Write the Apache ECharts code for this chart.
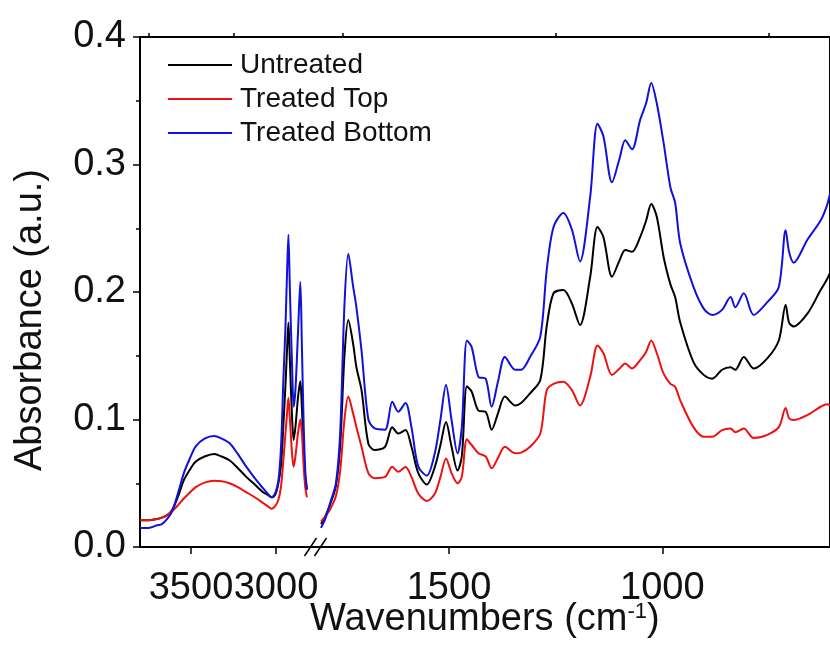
<!DOCTYPE html>
<html><head><meta charset="utf-8">
<script src="https://cdn.jsdelivr.net/npm/echarts@6/dist/echarts.min.js"></script>
<style>html,body{margin:0;padding:0;background:#fff}#c{width:830px;height:665px}</style>
</head><body><div id="c"></div>
<script>
// ---------- data ----------
const seriesNames = ['Untreated', 'Treated Top', 'Treated Bottom'];
const seriesColors = ['#000000', '#ee1111', '#1111dd'];

// high wavenumber segment (O-H / C-H region)
const wnHigh = [3800,3750,3700,3671,3640,3611,3575,3542,3505,3472,3420,3363,3320,3274,3225,3175,3125,3076,3050,3026,3005,2986,2970,2957,2945,2935,2927,2918,2905,2896,2885,2870,2857,2848,2838,2828,2818];
const untreatedHigh = [0.021,0.021,0.022,0.023,0.025,0.029,0.040,0.0525,0.061,0.067,0.071,0.073,0.071,0.068,0.062,0.055,0.049,0.043,0.041,0.039,0.041,0.050,0.065,0.095,0.125,0.155,0.176,0.145,0.100,0.084,0.095,0.118,0.130,0.110,0.080,0.055,0.045];
const topHigh = [0.021,0.021,0.022,0.023,0.025,0.028,0.033,0.038,0.043,0.047,0.0505,0.052,0.0515,0.050,0.047,0.043,0.039,0.0345,0.032,0.030,0.032,0.037,0.048,0.068,0.088,0.105,0.117,0.100,0.072,0.063,0.072,0.090,0.100,0.090,0.065,0.047,0.039];
const bottomHigh = [0.015,0.015,0.017,0.018,0.022,0.028,0.043,0.058,0.070,0.079,0.085,0.087,0.085,0.0815,0.073,0.063,0.054,0.046,0.042,0.039,0.042,0.052,0.080,0.130,0.170,0.215,0.245,0.200,0.140,0.110,0.125,0.170,0.208,0.160,0.100,0.060,0.045];

// fingerprint segment
const wnLow = [1800,1790,1778,1765,1755,1745,1736,1725,1717,1705,1689,1674,1650,1633,1619,1602,1588,1572,1552,1533,1520,1507,1494,1480,1470,1458,1447,1431,1414,1400,1385,1369,1345,1331,1310,1286,1271,1255,1232,1212,1193,1169,1152,1138,1118,1100,1087,1071,1052,1038,1026,1013,997,981,970,958,927,903,883,860,840,829,809,786,754,727,711,703,692,660,629,614,607];
const untreatedLow = [0.018,0.024,0.034,0.048,0.080,0.150,0.178,0.160,0.141,0.123,0.081,0.076,0.0786,0.094,0.089,0.0917,0.0786,0.058,0.049,0.063,0.080,0.098,0.0786,0.060,0.071,0.126,0.122,0.107,0.106,0.092,0.105,0.118,0.111,0.113,0.1205,0.131,0.173,0.199,0.2015,0.191,0.174,0.212,0.251,0.243,0.212,0.225,0.233,0.2315,0.243,0.256,0.269,0.259,0.2275,0.206,0.196,0.176,0.145,0.135,0.132,0.139,0.141,0.139,0.149,0.140,0.148,0.162,0.190,0.176,0.173,0.183,0.2015,0.210,0.215];
const topLow = [0.020,0.024,0.030,0.040,0.060,0.100,0.118,0.105,0.094,0.0786,0.058,0.054,0.055,0.063,0.059,0.0627,0.055,0.042,0.036,0.042,0.055,0.0695,0.058,0.050,0.055,0.0845,0.080,0.0735,0.071,0.0617,0.070,0.0786,0.0735,0.074,0.0786,0.089,0.123,0.128,0.1296,0.123,0.111,0.1335,0.158,0.152,0.135,0.140,0.144,0.140,0.1466,0.153,0.162,0.152,0.136,0.128,0.1257,0.115,0.094,0.0865,0.0865,0.0917,0.093,0.090,0.093,0.0855,0.088,0.094,0.109,0.101,0.0996,0.1035,0.110,0.112,0.111];
const bottomLow = [0.015,0.022,0.035,0.050,0.090,0.190,0.230,0.205,0.188,0.154,0.100,0.093,0.092,0.114,0.106,0.113,0.094,0.063,0.056,0.074,0.100,0.127,0.0996,0.0735,0.094,0.162,0.157,0.1335,0.132,0.110,0.130,0.149,0.139,0.139,0.149,0.165,0.217,0.251,0.262,0.249,0.224,0.275,0.332,0.322,0.286,0.305,0.319,0.312,0.335,0.348,0.364,0.348,0.317,0.282,0.270,0.238,0.204,0.187,0.182,0.186,0.196,0.188,0.199,0.182,0.192,0.204,0.2485,0.2315,0.223,0.241,0.256,0.268,0.277];

// axis ticks
const highMajorTicks = [3500, 3000];
const highMinorTicks = [3750, 3250];
const lowMajorTicks = [1500, 1000];
const lowMinorTicks = [1750, 1250, 750];

// ---------- chart ----------
const FONT = "'Liberation Sans', Arial, sans-serif";
const chart = echarts.init(document.getElementById('c'), null, {renderer: 'canvas'});

function pairs(x, y) { return x.map((v, i) => [v, y[i]]); }
const highSets = [untreatedHigh, topHigh, bottomHigh];
const lowSets = [untreatedLow, topLow, bottomLow];

const series = [];
seriesNames.forEach((name, i) => {
  series.push({
    name, type: 'line', xAxisIndex: 0, yAxisIndex: 0,
    data: pairs(wnHigh, highSets[i]), showSymbol: false, symbol: 'none',
    smooth: 0.3, lineStyle: {color: seriesColors[i], width: 2}, itemStyle: {color: seriesColors[i]}
  });
  series.push({
    name, type: 'line', xAxisIndex: 2, yAxisIndex: 1,
    data: pairs(wnLow, lowSets[i]), showSymbol: false, symbol: 'none',
    smooth: 0.3, lineStyle: {color: seriesColors[i], width: 2}, itemStyle: {color: seriesColors[i]}
  });
});

const majorTickLen = 7, minorTickLen = 4;
function xAxisDef(grid, min, max, ticks, len, withLabels) {
  return {
    type: 'value', gridIndex: grid, min, max, inverse: true,
    axisLine: {show: false}, splitLine: {show: false},
    axisTick: {show: true, inside: false, length: len, customValues: ticks, lineStyle: {color: '#000', width: 1.5}},
    axisLabel: {show: true, customValues: ticks, hideOverlap: false, fontSize: 38, fontFamily: FONT,
      color: withLabels ? '#111' : 'rgba(0,0,0,0)', margin: 23,
      formatter: v => withLabels ? String(v) : ''}
  };
}

chart.setOption({
  animation: false,
  backgroundColor: '#fff',
  grid: [
    {left: 140, top: 37, width: 170, height: 510},
    {left: 321, top: 37, right: 0, height: 510},
    {left: 140, top: 37, right: -6, height: 510, show: true, borderColor: '#000', borderWidth: 2, backgroundColor: 'transparent'}
  ],
  xAxis: [
    xAxisDef(0, 2800, 3800, highMajorTicks, majorTickLen, true),
    xAxisDef(0, 2800, 3800, highMinorTicks, minorTickLen, false),
    xAxisDef(1, 607, 1800, lowMajorTicks, majorTickLen, true),
    xAxisDef(1, 607, 1800, lowMinorTicks, minorTickLen, false),
    {type: 'value', gridIndex: 2, show: false, min: 0, max: 1}
  ],
  yAxis: [
    {
      type: 'value', gridIndex: 0, min: 0, max: 0.4, interval: 0.1,
      axisLine: {show: false}, splitLine: {show: false},
      axisTick: {show: true, inside: false, length: majorTickLen, lineStyle: {color: '#000', width: 1.5}},
      minorTick: {show: true, splitNumber: 2, length: minorTickLen, lineStyle: {color: '#000', width: 1.5}},
      axisLabel: {fontSize: 38, fontFamily: FONT, color: '#111', margin: 14, formatter: v => v.toFixed(1)}
    },
    {type: 'value', gridIndex: 1, min: 0, max: 0.4, show: false},
    {type: 'value', gridIndex: 2, min: 0, max: 1, show: false}
  ],
  legend: {
    data: seriesNames, left: 168, top: 51, orient: 'vertical', padding: 0,
    icon: 'rect', itemWidth: 64, itemHeight: 2, itemGap: 6,
    textStyle: {fontSize: 28, lineHeight: 28, fontFamily: FONT, color: '#111', padding: [0, 0, 0, 3]}
  },
  title: {
    left: 305, top: 596,
    text: '{a|Wavenumbers (cm}{s|-1}{a|)}',
    textStyle: {rich: {
      a: {fontSize: 38, fontWeight: 'normal', fontFamily: FONT, color: '#111'},
      s: {fontSize: 22, fontWeight: 'normal', fontFamily: FONT, color: '#111', verticalAlign: 'top', padding: [0, 0, 16, 0]}
    }}
  },
  series
});

// axis break marks "//" and rotated y-axis title
const xa = chart.convertToPixel({xAxisIndex: 0}, 2800);
const xb = chart.convertToPixel({xAxisIndex: 2}, 1800);
const yb = chart.convertToPixel({yAxisIndex: 0}, 0);
const mid = (xa + xb) / 2;
const slash = (cx) => ({
  type: 'line', shape: {x1: cx - 6, y1: yb + 9, x2: cx + 6, y2: yb - 9},
  style: {stroke: '#000', lineWidth: 1.5}, z: 100
});
chart.setOption({graphic: [
  slash(mid - 5), slash(mid + 5),
  {type: 'text', x: 31, y: 320, rotation: Math.PI / 2,
   style: {text: 'Absorbance (a.u.)', font: "38px 'Liberation Sans', Arial, sans-serif", fill: '#111',
           align: 'center', verticalAlign: 'middle'}}
]});
</script>
</body></html>
